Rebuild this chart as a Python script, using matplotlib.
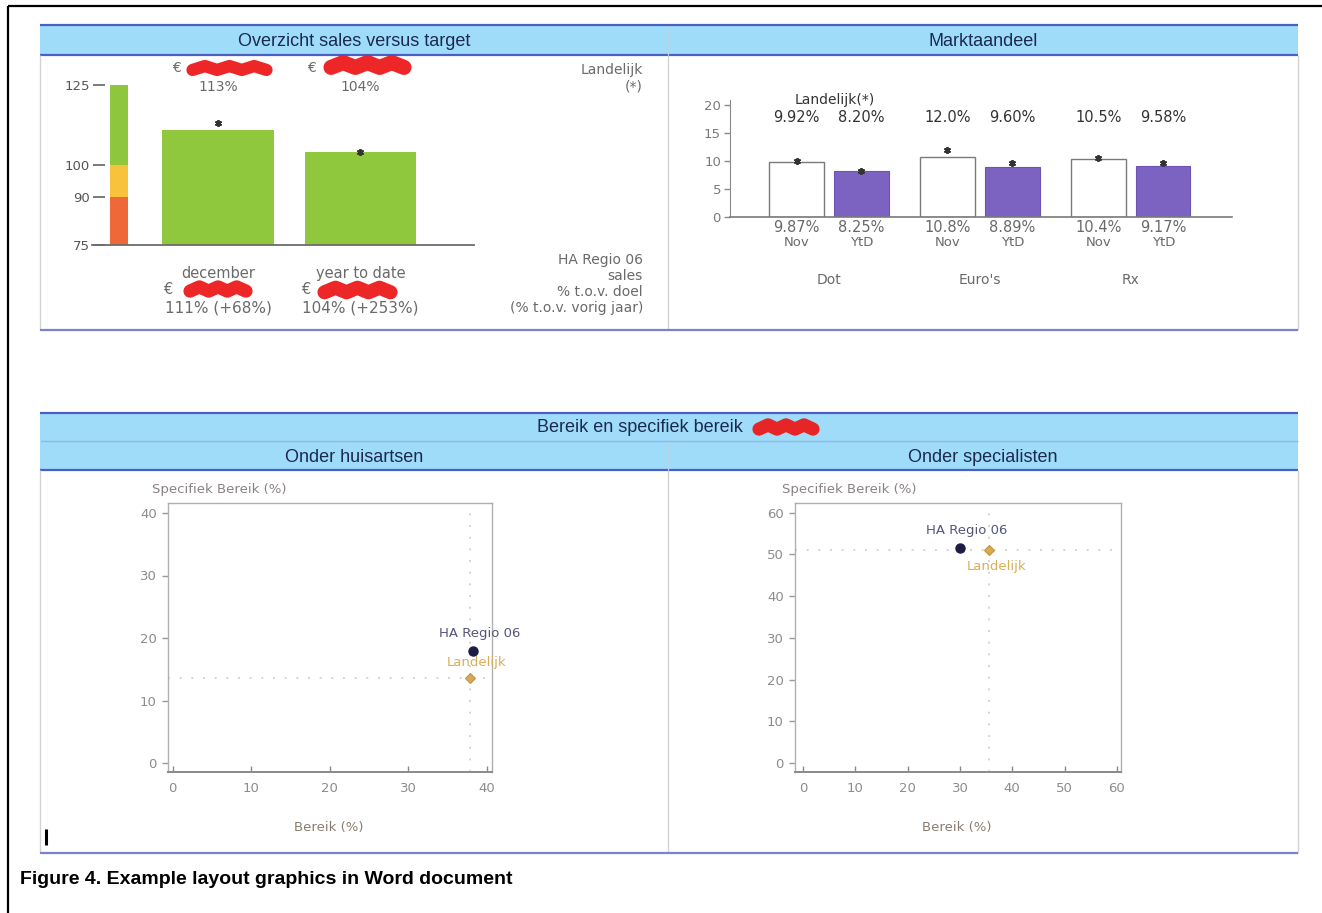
import numpy as np
import matplotlib
matplotlib.use("Agg")
import matplotlib.pyplot as plt
from matplotlib.patches import Rectangle

W, H, DPI = 1322, 913, 100

# ---- Overzicht sales versus target ----
sales_periods = ["december", "year to date"]
sales_pct = [111, 104]
sales_growth = [68, 253]
sales_national = [113, 104]
band_edges = [75, 90, 100, 125]
band_colors = ["#ee6838", "#f8c23c", "#8ec63e"]
sales_ticks = [75, 90, 100, 125]

# ---- Marktaandeel ----
share_groups = ["Dot", "Euro's", "Rx"]
share_periods = ["Nov", "YtD"]
share_nov = [9.87, 10.8, 10.4]
share_ytd = [8.25, 8.89, 9.17]
share_nat_nov = [9.92, 12.0, 10.5]
share_nat_ytd = [8.20, 9.60, 9.58]
share_ticks = [0, 5, 10, 15, 20]

# ---- Bereik en specifiek bereik ----
gp_region = (38.3, 18.0)
gp_national = (37.9, 13.6)
gp_ticks = [0, 10, 20, 30, 40]
spec_region = (30.0, 51.6)
spec_national = (35.6, 51.0)
spec_ticks = [0, 10, 20, 30, 40, 50, 60]

HEAD_FILL = "#9fdcfa"
HEAD_LINE = "#4a5ec6"
BODY_LINE = "#7f7fd2"
FRAME = "#d2d2d2"
TXT = "#333333"
GREY = "#6a6a6a"
REDACT = "#ec1b1b"
SANS = "DejaVu Sans"
HEAD_FONT = "Liberation Sans"
HEAD_SIZE = 13

fig = plt.figure(figsize=(W / DPI, H / DPI), dpi=DPI)


def px_axes(box):
    x0, y0, x1, y1 = box
    return fig.add_axes([x0 / W, 1 - y1 / H, (x1 - x0) / W, (y1 - y0) / H])


def y_at(box, lim, py):
    """Data y-value that lands on pixel row py inside an axes box."""
    return lim[0] + (box[3] - py) * (lim[1] - lim[0]) / (box[3] - box[1])


# ---------------- page layer (pixel coordinates) ----------------
page = px_axes((0, 0, W, H))
page.set_xlim(0, W)
page.set_ylim(H, 0)
page.axis("off")


def hline(y, x0, x1, color, lw):
    page.plot([x0, x1], [y, y], color=color, lw=lw, solid_capstyle="butt")


def vline(x, y0, y1, color, lw):
    page.plot([x, x], [y0, y1], color=color, lw=lw, solid_capstyle="butt")


def band(x0, x1, y0, y1):
    page.add_patch(Rectangle((x0, y0), x1 - x0, y1 - y0,
                             facecolor=HEAD_FILL, edgecolor="none"))


def scribble(x0, x1, yc, h):
    xs = np.linspace(x0 + h / 2, x1 - h / 2, 7)
    ys = yc + np.array([1, -1, 1, -1, 1, -1, 1]) * h * 0.15
    page.plot(xs, ys, color=REDACT, lw=h * 0.68, solid_capstyle="round",
              solid_joinstyle="round", alpha=0.95)


# page border
vline(8, 6, H, "#000000", 1.6)
hline(6, 8, W, "#000000", 1.6)

# top section frame
band(40, 1298, 25, 55)
hline(25, 40, 1298, HEAD_LINE, 1.6)
hline(55, 40, 1298, HEAD_LINE, 1.6)
vline(668, 26, 55, "#b8d4ea", 0.8)
for x in (40, 668, 1298):
    vline(x, 55, 330, FRAME, 1.0)
hline(330, 40, 1298, BODY_LINE, 1.6)
page.text(354, 42, "Overzicht sales versus target", ha="center", va="center",
          fontsize=HEAD_SIZE, color="#1b2a4e", family=HEAD_FONT)
page.text(983, 42, "Marktaandeel", ha="center", va="center",
          fontsize=HEAD_SIZE, color="#1b2a4e", family=HEAD_FONT)

# bottom section frame
band(40, 1298, 413, 441)
band(40, 1298, 442, 470)
hline(413, 40, 1298, HEAD_LINE, 1.6)
hline(441.5, 40, 1298, "#8fb6e6", 1.0)
hline(470, 40, 1298, HEAD_LINE, 1.6)
vline(668, 442, 470, "#b8d4ea", 0.8)
for x in (40, 668, 1298):
    vline(x, 470, 853, FRAME, 1.0)
hline(853, 40, 1298, BODY_LINE, 1.6)
page.text(640, 428, "Bereik en specifiek bereik", ha="center", va="center",
          fontsize=HEAD_SIZE, color="#1b2a4e", family=HEAD_FONT)
scribble(752, 820, 427, 14)
page.text(354, 457, "Onder huisartsen", ha="center", va="center",
          fontsize=HEAD_SIZE, color="#1b2a4e", family=HEAD_FONT)
page.text(983, 457, "Onder specialisten", ha="center", va="center",
          fontsize=HEAD_SIZE, color="#1b2a4e", family=HEAD_FONT)

# text cursor mark
vline(45.5, 829, 845, "#000000", 2.2)

page.text(20, 880, "Figure 4. Example layout graphics in Word document",
          ha="left", va="center", fontsize=14, fontweight="bold",
          color="#000000", family="Liberation Sans")

# ---------------- sales versus target ----------------
box1 = (105, 85, 474, 245)
lim1y = (75, 125)
lim1x = (0.207, 2.797)
ax1 = px_axes(box1)
ax1.set_xlim(*lim1x)
ax1.set_ylim(*lim1y)
xs1 = np.arange(1, len(sales_pct) + 1)

# target bands
for lo, hi, c in zip(band_edges[:-1], band_edges[1:], band_colors):
    ax1.bar(0.305, hi - lo, bottom=lo, width=0.126, color=c, edgecolor="none")
ax1.bar(xs1, sales_pct, width=0.78, color="#8fc83c", edgecolor="none")
ax1.plot(xs1, sales_national, ls="none", marker=(6, 2, 0), ms=5, mew=1.3,
         color="#333333", zorder=4)
ax1.plot([0.116, lim1x[1]], [75, 75], color="#6d6d6d", lw=1.3,
         clip_on=False, zorder=5)
for s in ax1.spines.values():
    s.set_visible(False)
ax1.set_xticks([])
ax1.set_yticks(sales_ticks)
ax1.tick_params(axis="y", direction="out", length=9, width=1.1, color="#555555",
                labelcolor="#555555", labelsize=9.5, pad=2)
ax1.patch.set_visible(False)

euro_top = [176, 311]
euro_bottom = [169, 307]
scrib_top = [(186, 273, 68, 13), (323, 412, 65, 16)]
scrib_bottom = [(183, 253, 289, 14), (317, 398, 290, 15)]
for i, x in enumerate(xs1):
    ax1.text(x, y_at(box1, lim1y, 87), f"{sales_national[i]}%", ha="center",
             va="center", fontsize=10, color=GREY, family=SANS, clip_on=False)
    ax1.text(x, y_at(box1, lim1y, 273), sales_periods[i], ha="center",
             va="center", fontsize=10.5, color=GREY, family=SANS, clip_on=False)
    ax1.text(x, y_at(box1, lim1y, 308),
             f"{sales_pct[i]}% (+{sales_growth[i]}%)", ha="center",
             va="center", fontsize=11, color=GREY, family=SANS, clip_on=False)
    page.text(euro_top[i], 68, "€", ha="center", va="center", fontsize=10,
              color=GREY, family=SANS)
    page.text(euro_bottom[i], 290, "€", ha="center", va="center", fontsize=10.5,
              color=GREY, family=SANS)
    scribble(*scrib_top[i])
    scribble(*scrib_bottom[i])

for py, s in [(70, "Landelijk"), (87, "(*)")]:
    page.text(643, py, s, ha="right", va="center", fontsize=10, color=GREY,
              family=SANS)
for py, s in [(260, "HA Regio 06"), (276, "sales"), (292, "% t.o.v. doel"),
              (308, "(% t.o.v. vorig jaar)")]:
    page.text(643, py, s, ha="right", va="center", fontsize=10, color=GREY,
              family=SANS)

# ---------------- market share ----------------
box2 = (730, 100, 1232, 217)
lim2y = (0, 20.9)
lim2x = (-0.656, 2.67)
ax2 = px_axes(box2)
ax2.set_xlim(*lim2x)
ax2.set_ylim(*lim2y)
g = np.arange(len(share_groups))
off, bw = 0.215, 0.36
ax2.bar(g - off, share_nov, width=bw, color="white", edgecolor="#7a7a7a", lw=1.0)
ax2.bar(g + off, share_ytd, width=bw, color="#7c63c2", edgecolor="#6c54b4", lw=0.8)
ax2.plot(g - off, share_nat_nov, ls="none", marker=(6, 2, 0), ms=5, mew=1.3,
         color="#333333", zorder=4)
ax2.plot(g + off, share_nat_ytd, ls="none", marker=(6, 2, 0), ms=5, mew=1.3,
         color="#333333", zorder=4)
for k in ("top", "right"):
    ax2.spines[k].set_visible(False)
ax2.spines["left"].set_color("#8a8a8a")
ax2.spines["bottom"].set_color("#7a7a7a")
ax2.spines["bottom"].set_linewidth(1.2)
ax2.set_xticks([])
ax2.set_yticks(share_ticks)
ax2.tick_params(axis="y", direction="out", length=4.5, width=1, color="#8a8a8a",
                labelcolor="#7a7a7a", labelsize=9.5, pad=2)
ax2.patch.set_visible(False)


def pct(v):
    return f"{v:.1f}%" if v >= 10 else f"{v:.2f}%"


ax2.text(0.04, y_at(box2, lim2y, 100), "Landelijk(*)", ha="center", va="center",
         fontsize=10, color=TXT, family=SANS, clip_on=False)
for i in g:
    for dx, val, nat, per in [(-off, share_nov[i], share_nat_nov[i], share_periods[0]),
                              (off, share_ytd[i], share_nat_ytd[i], share_periods[1])]:
        ax2.text(i + dx, y_at(box2, lim2y, 117), pct(nat), ha="center",
                 va="center", fontsize=10.5, color=TXT, family=SANS, clip_on=False)
        ax2.text(i + dx, y_at(box2, lim2y, 228), pct(val), ha="center",
                 va="center", fontsize=10.5, color=GREY, family=SANS, clip_on=False)
        ax2.text(i + dx, y_at(box2, lim2y, 243), per, ha="center",
                 va="center", fontsize=9.5, color=GREY, family=SANS, clip_on=False)
    ax2.text(i, y_at(box2, lim2y, 280), share_groups[i], ha="center",
             va="center", fontsize=10, color=GREY, family=SANS, clip_on=False)

# ---------------- reach scatters ----------------
def reach_plot(box, xlim, ylim, ticks, region, national, land_below):
    ax = px_axes(box)
    ax.set_xlim(*xlim)
    ax.set_ylim(*ylim)
    ax.axhline(national[1], color="#dcd4c2", ls=(0, (1, 5)), lw=1.4, zorder=1)
    ax.axvline(national[0], color="#dcd4c2", ls=(0, (1, 5)), lw=1.4, zorder=1)
    ax.plot(*region, ls="none", marker="o", ms=6.5, color="#1d1c46", zorder=3)
    ax.plot(*national, ls="none", marker="D", ms=5.5, mfc="#d9aa55",
            mec="#c5953e", mew=0.8, zorder=3)
    ax.annotate("HA Regio 06", region, xytext=(5, 12.5), textcoords="offset points",
                ha="center", va="center", fontsize=9.5, color="#55557c", family=SANS)
    ax.annotate("Landelijk", national,
                xytext=(5, -12) if land_below else (5, 11.5),
                textcoords="offset points", ha="center", va="center",
                fontsize=9.5, color="#d8ae58", family=SANS)
    for s in ax.spines.values():
        s.set_color("#b0b0b0")
        s.set_linewidth(1.0)
    ax.spines["bottom"].set_color("#8a8a8a")
    ax.spines["bottom"].set_linewidth(1.4)
    ax.set_xticks(ticks)
    ax.set_yticks(ticks)
    ax.tick_params(axis="x", direction="in", length=4, width=1, color="#8a8a8a",
                   labelcolor="#8c8c8c", labelsize=9.5, pad=7)
    ax.tick_params(axis="y", direction="out", length=4, width=1, color="#9a9a9a",
                   labelcolor="#8c8c8c", labelsize=9.5, pad=4)
    return ax


reach_plot((168, 503, 492, 772), (-0.59, 40.7), (-1.44, 41.6), gp_ticks,
           gp_region, gp_national, land_below=False)
reach_plot((795, 503, 1121, 772), (-1.54, 60.8), (-2.16, 62.35), spec_ticks,
           spec_region, spec_national, land_below=True)

for x0, xc in [(152, 329), (782, 957)]:
    page.text(x0, 489, "Specifiek Bereik (%)", ha="left", va="center",
              fontsize=9.5, color="#8a8282", family=SANS)
    page.text(xc, 827, "Bereik (%)", ha="center", va="center",
              fontsize=9.5, color="#8a7c6e", family=SANS)

fig.savefig("out.png", dpi=DPI)
